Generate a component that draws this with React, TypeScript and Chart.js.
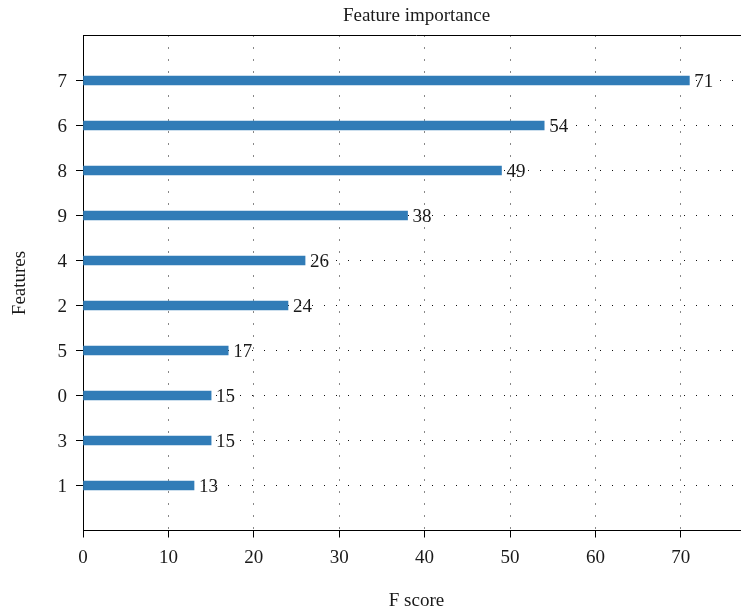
import React, { useEffect, useRef } from 'react';
import { Chart, registerables } from 'chart.js';

Chart.register(...registerables);

const features = ['7', '6', '8', '9', '4', '2', '5', '0', '3', '1'];
const scores = [71, 54, 49, 38, 26, 24, 17, 15, 15, 13];
const xMax = 78.1;
const xStep = 10;

const FONT = "'Liberation Serif', 'Times New Roman', serif";
const TEXT = '#1a1a1a';
const BAR = '#317cb7';
const DOT = '#111111';

export default function App() {
  const ref = useRef<HTMLCanvasElement>(null);

  useEffect(() => {
    if (!ref.current) return;
    const labels = ['', ...features, ''];
    const data: (number | null)[] = [null, ...scores, null];
    const last = labels.length - 1;

    const valueLabels = {
      id: 'valueLabels',
      afterDatasetsDraw(chart: any) {
        const ctx = chart.ctx;
        const meta = chart.getDatasetMeta(0);
        ctx.save();
        ctx.font = `19px ${FONT}`;
        ctx.fillStyle = TEXT;
        ctx.textBaseline = 'middle';
        ctx.textAlign = 'left';
        meta.data.forEach((el: any, i: number) => {
          const v = data[i];
          if (v == null) return;
          ctx.fillText(String(v), el.x + 5, el.y + 1.5);
        });
        ctx.restore();
      },
    };

    const topSpine = {
      id: 'topSpine',
      afterDraw(chart: any) {
        const { ctx, chartArea } = chart;
        const y = Math.round(chartArea.top - 0.5) + 0.5;
        ctx.save();
        ctx.strokeStyle = '#000';
        ctx.lineWidth = 1;
        ctx.beginPath();
        ctx.moveTo(chartArea.left, y);
        ctx.lineTo(chartArea.right, y);
        ctx.stroke();
        ctx.restore();
      },
    };

    const chart = new Chart(ref.current, {
      type: 'bar',
      data: {
        labels,
        datasets: [
          {
            data,
            backgroundColor: BAR,
            borderWidth: 0,
            barThickness: 9,
          },
        ],
      },
      options: {
        indexAxis: 'y',
        responsive: false,
        animation: false,
        layout: { padding: 0 },
        plugins: {
          legend: { display: false },
          tooltip: { enabled: false },
          title: {
            display: true,
            text: 'Feature importance',
            fullSize: false,
            color: TEXT,
            font: { family: FONT, size: 19, weight: 'normal' },
            padding: { top: 5, bottom: 7.7 },
          },
        },
        scales: {
          x: {
            type: 'linear',
            min: 0,
            max: xMax,
            ticks: {
              stepSize: xStep,
              includeBounds: false,
              color: TEXT,
              font: { family: FONT, size: 19 },
              padding: 9,
            },
            grid: {
              color: DOT,
              lineWidth: 1,
              tickColor: '#000',
              tickLength: 7,
              tickWidth: 1,
            },
            border: { display: true, color: '#000', width: 1, dash: [1, 11] },
            title: {
              display: true,
              text: 'F score',
              color: TEXT,
              font: { family: FONT, size: 19 },
              padding: { top: 0, bottom: 0.6 },
            },
            afterFit: (s: any) => {
              s.height = 82.5;
            },
          },
          y: {
            type: 'category',
            offset: false,
            ticks: {
              color: TEXT,
              font: { family: FONT, size: 19 },
              padding: 9,
              labelOffset: 1.5,
              autoSkip: false,
            },
            grid: {
              offset: false,
              color: (c: any) => (c.index === 0 || c.index === last ? 'rgba(0,0,0,0)' : DOT),
              tickColor: (c: any) => (c.index === 0 || c.index === last ? 'rgba(0,0,0,0)' : '#000'),
              lineWidth: 1,
              tickLength: 7,
              tickWidth: 1,
            },
            border: { display: true, color: '#000', width: 1, dash: [1, 11] },
            title: {
              display: true,
              text: 'Features',
              color: TEXT,
              font: { family: FONT, size: 19 },
              padding: { top: 8.3, bottom: 0 },
            },
            afterFit: (s: any) => {
              s.width = 83;
            },
          },
        },
      },
      plugins: [valueLabels, topSpine],
    });

    return () => chart.destroy();
  }, []);

  return (
    <div
      style={{
        position: 'fixed',
        left: 0,
        top: 0,
        width: 741,
        height: 613,
        overflow: 'hidden',
        background: '#fff',
      }}
    >
      <canvas ref={ref} width={750} height={613} style={{ display: 'block', width: 750, height: 613 }} />
    </div>
  );
}
